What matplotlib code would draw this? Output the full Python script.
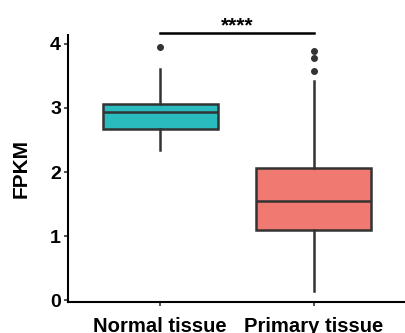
import matplotlib.pyplot as plt

plt.rcParams['font.family'] = ['Liberation Sans', 'DejaVu Sans']

groups = ['Normal tissue', 'Primary tissue']
colors = ['#2ABBBF', '#F07A72']
# box stats
q1 = [2.67, 1.10]
med = [2.93, 1.55]
q3 = [3.06, 2.07]
whislo = [2.35, 0.15]
whishi = [3.61, 3.42]
fliers = [[3.95], [3.89, 3.78, 3.57]]
sig_y = 4.17
sig_text = '****'

stats = []
for i in range(len(groups)):
    stats.append({'q1': q1[i], 'med': med[i], 'q3': q3[i],
                  'whislo': whislo[i], 'whishi': whishi[i],
                  'fliers': fliers[i], 'label': groups[i]})

fig = plt.figure(figsize=(4.05, 3.33), dpi=100)
ax = fig.add_axes([0.168, 0.093, 0.834, 0.802])

line = '#333333'
bp = ax.bxp(stats, positions=[1, 2], widths=0.75, patch_artist=True,
            showcaps=False,
            boxprops=dict(edgecolor=line, linewidth=1.8),
            medianprops=dict(color=line, linewidth=1.8),
            whiskerprops=dict(color=line, linewidth=1.8),
            flierprops=dict(marker='o', markerfacecolor=line, markeredgecolor=line,
                            markersize=4))
for patch, c in zip(bp['boxes'], colors):
    patch.set_facecolor(c)

ax.plot([1, 2], [sig_y, sig_y], color='black', linewidth=1.8, clip_on=False)
ax.text(1.5, sig_y - 0.03, sig_text, ha='center', va='bottom', fontsize=15,
        fontweight='bold', clip_on=False)

ax.set_xlim(0.4, 2.6)
ax.set_ylim(-0.03, 4.14)
ax.set_yticks([0, 1, 2, 3, 4])
ax.set_xticks([1, 2])
ax.set_xticklabels(groups)
for s in ['top', 'right']:
    ax.spines[s].set_visible(False)
for s in ['left', 'bottom']:
    ax.spines[s].set_linewidth(1.5)
    ax.spines[s].set_color('black')
ax.tick_params(axis='both', length=3, width=1.2, color=line, labelsize=14, pad=2)
ax.tick_params(axis='x', labelsize=14.6, pad=8)
for lab in ax.get_xticklabels() + ax.get_yticklabels():
    lab.set_fontweight('bold')
ax.set_ylabel('FPKM', fontsize=15, fontweight='bold', labelpad=14)

fig.savefig('out.png', dpi=100)
